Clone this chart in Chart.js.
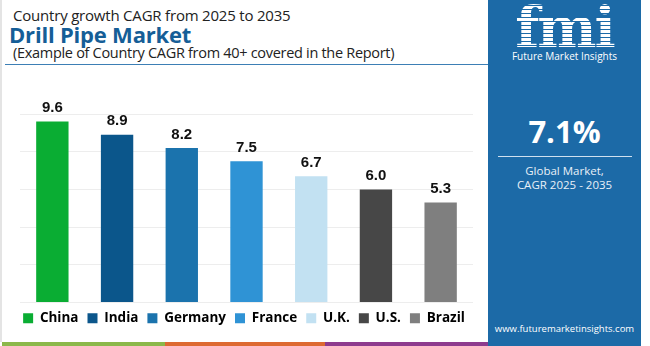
<!DOCTYPE html>
<html>
<head>
<meta charset="utf-8">
<script src="https://cdn.jsdelivr.net/npm/chart.js@4.4.1/dist/chart.umd.min.js"></script>
<style>
  html, body { margin: 0; padding: 0; background: #fff; }
  body { width: 650px; height: 346px; position: relative; overflow: hidden; font-family: "Open Sans", "Noto Sans", sans-serif; }
  .edge { position: absolute; left: 0; top: 0; width: 2px; height: 342px; background: #e4e4e4; }
  .t1 { position: absolute; left: 13px; top: 5px; font-size: 15px; color: #222; letter-spacing: -0.2px; }
  .t2 { position: absolute; left: 9px; top: 19px; font-size: 22px; font-weight: 700; color: #155e97; letter-spacing: -0.2px; }
  .t3 { position: absolute; left: 13px; top: 43px; font-size: 14.5px; color: #222; letter-spacing: -0.3px; }
  .rule { position: absolute; left: 5px; top: 64px; width: 483px; height: 1px; background: #3d7fb5; }
  .chart { position: absolute; left: 0; top: 70px; width: 488px; height: 265px; }
  .stripe { position: absolute; top: 342px; height: 4px; }
  .panel { position: absolute; left: 488px; top: 0; width: 153px; height: 346px; background: #1c6aa7; color: #fff; text-align: center; }
  .logo { position: absolute; left: 0; width: 153px; top: -6px; font-family: "DejaVu Serif", serif; font-size: 56px; font-weight: 700; letter-spacing: -2px;
          background: repeating-linear-gradient(#fff 0 3px, #1c6aa7 3px 4px); -webkit-background-clip: text; background-clip: text; color: transparent; }
  .brand { position: absolute; left: 0; width: 153px; top: 49px; font-size: 10px; }
  .big { position: absolute; left: 0; width: 153px; top: 110px; font-size: 31px; font-weight: 700; }
  .hr { position: absolute; left: 10px; width: 134px; top: 156px; height: 1px; background: #cfe0ef; }
  .sub { position: absolute; left: 0; width: 153px; top: 164px; font-size: 11.5px; line-height: 14px; color: #e8f0f8; }
  .url { position: absolute; left: 0; width: 153px; top: 322px; font-size: 9.5px; }
</style>
</head>
<body>
<div class="edge"></div>
<div class="t1">Country growth CAGR from 2025 to 2035</div>
<div class="t2">Drill Pipe Market</div>
<div class="t3">(Example of Country CAGR from 40+ covered in the Report)</div>
<div class="rule"></div>
<div class="chart"><canvas id="c"></canvas></div>
<div class="stripe" style="left:2px;width:163px;background:#8bb84a"></div>
<div class="stripe" style="left:165px;width:160px;background:#dd6a32"></div>
<div class="stripe" style="left:325px;width:163px;background:#8e3b8e"></div>
<div class="panel">
  <div class="logo">fmi</div>
  <div class="brand">Future Market Insights</div>
  <div class="big">7.1%</div>
  <div class="hr"></div>
  <div class="sub">Global Market,<br>CAGR 2025 - 2035</div>
  <div class="url">www.futuremarketinsights.com</div>
</div>
<script>
const countries = ['China', 'India', 'Germany', 'France', 'U.K.', 'U.S.', 'Brazil'];
const cagr = [9.6, 8.9, 8.2, 7.5, 6.7, 6.0, 5.3];
const barColors = ['#0aad33', '#0b568b', '#1b73ad', '#2f93d5', '#c2e1f2', '#474747', '#7f7f7f'];

// value labels above each bar
const valueLabels = {
    id: 'valueLabels',
    afterDatasetsDraw(chart) {
        const ctx = chart.ctx;
        const meta = chart.getDatasetMeta(0);
        ctx.save();
        ctx.font = 'bold 15px "Liberation Sans", Arial, sans-serif';
        ctx.fillStyle = '#111';
        ctx.textAlign = 'center';
        ctx.textBaseline = 'bottom';
        meta.data.forEach((bar, i) => {
            ctx.fillText(cagr[i].toFixed(1), bar.x, bar.y - 6);
        });
        ctx.restore();
    }
};

new Chart(document.getElementById('c'), {
    type: 'bar',
    data: {
        labels: countries,
        datasets: [{
            label: 'CAGR',
            data: cagr,
            backgroundColor: barColors,
            barPercentage: 0.5,
            categoryPercentage: 1
        }]
    },
    options: {
        responsive: true,
        maintainAspectRatio: false,
        animation: false,
        layout: { padding: { left: 0, right: 0, top: 44, bottom: 0 } },
        plugins: {
            tooltip: { enabled: false },
            legend: {
                position: 'bottom',
                labels: {
                    boxWidth: 10,
                    boxHeight: 10,
                    padding: 9,
                    color: '#111',
                    font: { size: 13.5, weight: 'bold', family: '"Open Sans", sans-serif' },
                    generateLabels: () => countries.map((name, i) => ({
                        text: name,
                        fillStyle: barColors[i],
                        strokeStyle: barColors[i],
                        lineWidth: 0,
                        index: i
                    }))
                }
            }
        },
        scales: {
            x: { display: false },
            y: {
                min: 0,
                max: 10,
                ticks: { display: false, stepSize: 2 },
                border: { display: false },
                grid: { color: '#ededed', drawTicks: false },
                afterFit: (s) => { s.width = 20; }
            },
            yRight: {
                position: 'right',
                ticks: { display: false },
                border: { display: false },
                grid: { display: false },
                afterFit: (s) => { s.width = 15; }
            }
        }
    },
    plugins: [valueLabels]
});
</script>
</body>
</html>
